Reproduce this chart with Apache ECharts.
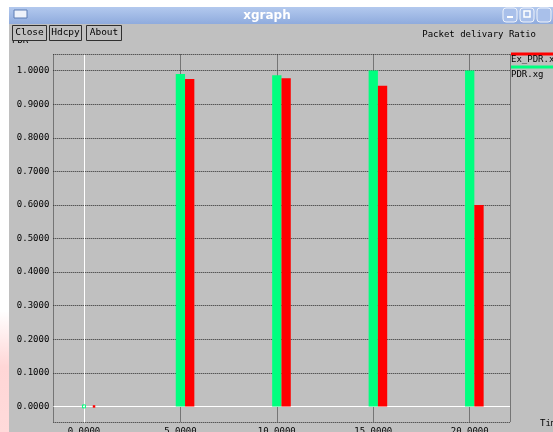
<!DOCTYPE html>
<html>
<head>
<meta charset="utf-8">
<script src="https://cdn.jsdelivr.net/npm/echarts@6/dist/echarts.min.js"></script>
<style>html,body{margin:0;padding:0;background:#fff;}#c{width:553px;height:432px;}</style>
</head>
<body>
<div id="c"></div>
<script>
// ---- data ----
const xValues = [0, 5, 10, 15, 20];
const pdr     = [0, 0.990, 0.986, 1.000, 1.000];   // PDR.xg (green)
const exPdr   = [0, 0.975, 0.977, 0.955, 0.600];   // Ex_PDR.xg (red)
const seriesNames = ['PDR.xg', 'Ex_PDR.xg'];
const windowTitle = 'xgraph';
const chartTitle = 'Packet delivary Ratio';
const yName = 'PDR';
const xName = 'Time';
const buttons = ['Close', 'Hdcpy', 'About'];

const MONO = '"DejaVu Sans Mono", "Liberation Mono", monospace';
const GREEN = '#00ff7f', RED = '#ff0000';
const BAR_W = 9.3;

function barRender(offset, color) {
  return function (params, api) {
    const x = api.value(0), y = api.value(1);
    const top = api.coord([x, y]);
    const base = api.coord([x, 0]);
    if (y === 0) {
      // xgraph draws a small point marker for zero values
      if (offset === 0) {
        return { type: 'rect', shape: { x: top[0] - 1.5, y: top[1] - 1.5, width: 3, height: 3 },
                 style: { fill: 'none', stroke: color, lineWidth: 1 } };
      }
      return { type: 'rect', shape: { x: top[0] + 10 - 1.2, y: top[1] - 1.2, width: 2.5, height: 2.5 },
               style: { fill: color } };
    }
    return {
      type: 'rect',
      shape: { x: top[0] - BAR_W / 2 + offset, y: top[1], width: BAR_W, height: base[1] - top[1] },
      style: { fill: color }
    };
  };
}

const chart = echarts.init(document.getElementById('c'), null, { renderer: 'canvas', width: 553, height: 432 });

const gridLine = { show: true, lineStyle: { color: '#2a2a2a', type: [1, 1], width: 1 } };

const option = {
  backgroundColor: '#c0c0c0',
  animation: false,
  grid: { left: 53.3, right: 43, top: 54.5, bottom: 9.5, containLabel: false, outerBoundsMode: 'none' },
  xAxis: {
    type: 'value', min: -1.59, max: 22.09, splitNumber: 5,
    axisLine: { show: false }, axisTick: { show: false },
    splitLine: gridLine,
    axisLabel: {
      margin: 5, color: '#000', fontFamily: MONO, fontSize: 9,
      showMinLabel: true, showMaxLabel: true,
      formatter: v => (v < -1e-6 || v > 20.0001) ? '' : v.toFixed(4)
    }
  },
  yAxis: {
    type: 'value', min: -0.048, max: 1.048, splitNumber: 11,
    axisLine: { show: false }, axisTick: { show: false },
    splitLine: gridLine,
    axisLabel: {
      margin: 4, color: '#000', fontFamily: MONO, fontSize: 9,
      formatter: v => (v < -1e-6 || v > 1.0001) ? '' : v.toFixed(4)
    }
  },
  series: [
    {
      name: seriesNames[0], type: 'custom', z: 3,
      data: xValues.map((x, i) => [x, pdr[i]]),
      renderItem: barRender(0, GREEN),
      markLine: {
        silent: true, symbol: 'none', label: { show: false }, z: 1,
        lineStyle: { color: '#ffffff', type: 'solid', width: 1 },
        data: [{ xAxis: 0 }, { yAxis: 0 }]
      }
    },
    {
      name: seriesNames[1], type: 'custom', z: 3,
      data: xValues.map((x, i) => [x, exPdr[i]]),
      renderItem: barRender(BAR_W, RED)
    }
  ],
  graphic: [
    // white top strip and left strip with pinkish glow
    { type: 'rect', z: 100, shape: { x: 0, y: 0, width: 553, height: 7 }, style: { fill: '#ffffff' } },
    { type: 'rect', z: 100, shape: { x: 0, y: 0, width: 9, height: 432 },
      style: { fill: new echarts.graphic.LinearGradient(0, 0, 0, 1, [
        { offset: 0, color: '#ffffff' }, { offset: 0.72, color: '#ffffff' },
        { offset: 0.85, color: '#ffd6d6' }, { offset: 1, color: '#ffdada' }]) } },
    // title bar
    { type: 'rect', z: 100, shape: { x: 9, y: 7, width: 544, height: 17 },
      style: { fill: new echarts.graphic.LinearGradient(0, 0, 0, 1, [
        { offset: 0, color: '#b3c9ee' }, { offset: 1, color: '#8fabdd' }]) } },
    { type: 'rect', z: 101, shape: { x: 14, y: 10, width: 13, height: 8 },
      style: { fill: '#eef2fa', stroke: '#5c7cb4', lineWidth: 1 } },
    { type: 'text', z: 101, style: { text: windowTitle, x: 267, y: 15.5, align: 'center', verticalAlign: 'middle',
      font: 'bold 12px "DejaVu Sans", sans-serif', fill: '#ffffff' } },
    { type: 'rect', z: 101, shape: { x: 503, y: 8, width: 14, height: 14, r: 3 },
      style: { fill: '#a9c0ea', stroke: '#eef3fb', lineWidth: 1 } },
    { type: 'rect', z: 101, shape: { x: 520, y: 8, width: 14, height: 14, r: 3 },
      style: { fill: '#a9c0ea', stroke: '#eef3fb', lineWidth: 1 } },
    { type: 'rect', z: 101, shape: { x: 537, y: 8, width: 14, height: 14, r: 3 },
      style: { fill: '#a9c0ea', stroke: '#eef3fb', lineWidth: 1 } },
    { type: 'rect', z: 102, shape: { x: 507, y: 16, width: 6, height: 2 }, style: { fill: '#ffffff' } },
    { type: 'rect', z: 102, shape: { x: 524, y: 11, width: 6, height: 6 }, style: { fill: 'none', stroke: '#ffffff', lineWidth: 1.5 } },
    // y axis name (partly hidden under buttons)
    { type: 'text', z: 99, style: { text: yName, x: 12, y: 36, verticalAlign: 'top', font: '9px ' + MONO, fill: '#000' } },
    // buttons
    { type: 'rect', z: 100, shape: { x: 12.5, y: 25.5, width: 34, height: 15 }, style: { fill: '#c0c0c0', stroke: '#303030', lineWidth: 1 } },
    { type: 'rect', z: 100, shape: { x: 49.5, y: 25.5, width: 32, height: 15 }, style: { fill: '#c0c0c0', stroke: '#303030', lineWidth: 1 } },
    { type: 'rect', z: 100, shape: { x: 86.5, y: 25.5, width: 35, height: 15 }, style: { fill: '#c0c0c0', stroke: '#303030', lineWidth: 1 } },
    { type: 'text', z: 101, style: { text: buttons[0], x: 29.5, y: 33, align: 'center', verticalAlign: 'middle', font: '9.5px ' + MONO, fill: '#000' } },
    { type: 'text', z: 101, style: { text: buttons[1], x: 65.5, y: 33, align: 'center', verticalAlign: 'middle', font: '9.5px ' + MONO, fill: '#000' } },
    { type: 'text', z: 101, style: { text: buttons[2], x: 104, y: 33, align: 'center', verticalAlign: 'middle', font: '9.5px ' + MONO, fill: '#000' } },
    // chart title
    { type: 'text', z: 100, style: { text: chartTitle, x: 536, y: 34.5, align: 'right', verticalAlign: 'middle', font: '9px ' + MONO, fill: '#000' } },
    // legend
    { type: 'rect', z: 100, shape: { x: 511, y: 52.5, width: 42, height: 3 }, style: { fill: RED } },
    { type: 'text', z: 100, style: { text: seriesNames[1], x: 511, y: 55.5, verticalAlign: 'top', font: '9px ' + MONO, fill: '#000' } },
    { type: 'rect', z: 100, shape: { x: 511, y: 65.5, width: 42, height: 3 }, style: { fill: GREEN } },
    { type: 'text', z: 100, style: { text: seriesNames[0], x: 511, y: 70, verticalAlign: 'top', font: '9px ' + MONO, fill: '#000' } },
    // x axis name (cut off at the right edge)
    { type: 'text', z: 100, style: { text: xName, x: 540, y: 419, verticalAlign: 'top', font: '9px ' + MONO, fill: '#000' } }
  ]
};
chart.setOption(option);
</script>
</body>
</html>
